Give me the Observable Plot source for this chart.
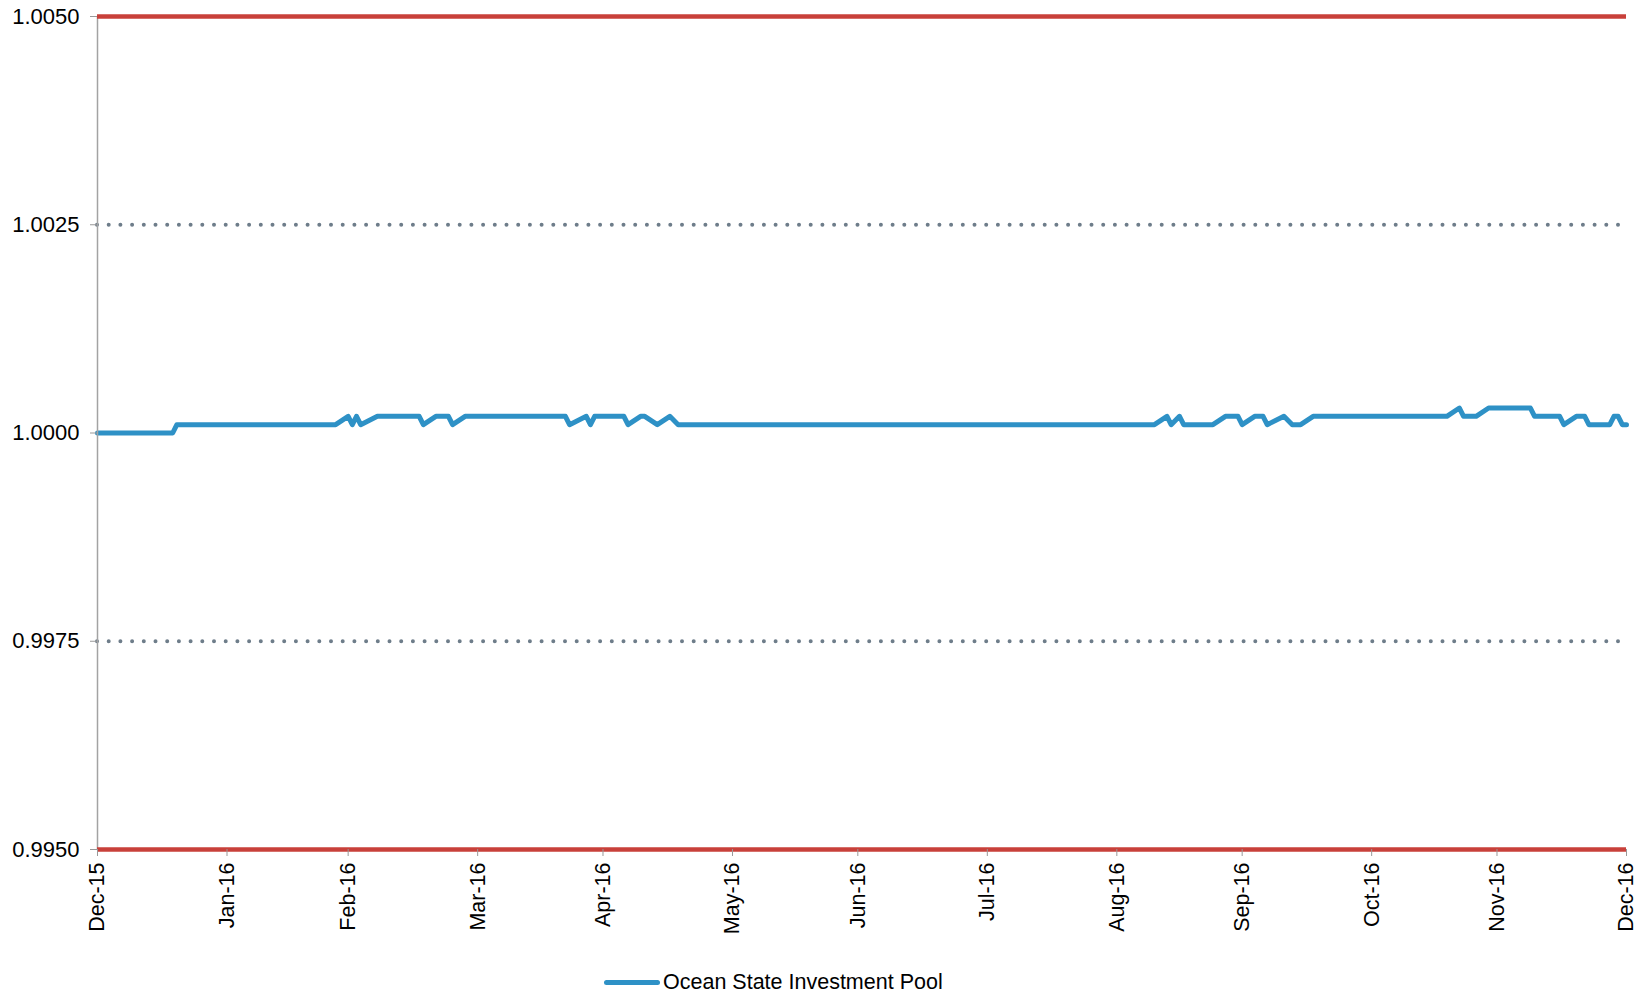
<!DOCTYPE html>
<html>
<head>
<meta charset="utf-8">
<script src="https://cdn.jsdelivr.net/npm/d3@7"></script>
<script src="https://cdn.jsdelivr.net/npm/@observablehq/plot@0.6"></script>
<style>
  html, body { margin: 0; padding: 0; background: #fff; }
  #chart { width: 1648px; }
  #chart svg g[aria-label="y-axis tick label"] { font-size: 22px; }
  #chart svg g[aria-label="x-axis tick label"] { font-size: 21.5px; }
  .legend { position: relative; height: 44px; font-family: "Liberation Sans", Arial, sans-serif; font-size: 21.5px; color: #000; }
  .legend .item { position: absolute; left: 604px; top: 20px; display: flex; align-items: center; height: 24px; }
  .legend .swatch { width: 56px; height: 5px; border-radius: 3px; background: #2e91c6; margin-right: 3px; }
</style>
</head>
<body>
<div id="chart"></div>
<script>
// ---- data ----
const seriesName = "Ocean State Investment Pool";
const navDates = [
  "2015-12-01","2015-12-19","2015-12-20","2016-01-27","2016-01-30","2016-01-31",
  "2016-02-01","2016-02-02","2016-02-06","2016-02-16","2016-02-17","2016-02-20",
  "2016-02-23","2016-02-24","2016-02-27","2016-03-22","2016-03-23","2016-03-27",
  "2016-03-28","2016-03-29","2016-04-05","2016-04-06","2016-04-09","2016-04-10",
  "2016-04-13","2016-04-16","2016-04-18","2016-08-10","2016-08-13","2016-08-14",
  "2016-08-16","2016-08-17","2016-08-24","2016-08-27","2016-08-30","2016-08-31",
  "2016-09-03","2016-09-05","2016-09-06","2016-09-10","2016-09-12","2016-09-14",
  "2016-09-17","2016-10-19","2016-10-22","2016-10-23","2016-10-26","2016-10-29",
  "2016-11-08","2016-11-09","2016-11-15","2016-11-16","2016-11-19","2016-11-21",
  "2016-11-22","2016-11-27","2016-11-28","2016-11-29","2016-11-30","2016-12-01"
];
const navValues = [
  1.0000,1.0000,1.0001,1.0001,1.0002,1.0001,
  1.0002,1.0001,1.0002,1.0002,1.0001,1.0002,
  1.0002,1.0001,1.0002,1.0002,1.0001,1.0002,
  1.0001,1.0002,1.0002,1.0001,1.0002,1.0002,
  1.0001,1.0002,1.0001,1.0001,1.0002,1.0001,
  1.0002,1.0001,1.0001,1.0002,1.0002,1.0001,
  1.0002,1.0002,1.0001,1.0002,1.0001,1.0001,
  1.0002,1.0002,1.0003,1.0002,1.0002,1.0003,
  1.0003,1.0002,1.0002,1.0001,1.0002,1.0002,
  1.0001,1.0001,1.0002,1.0002,1.0001,1.0001
];
// tick positions as they sit on the reference axis, and their labels
const tickPositions = [
  "2015-12-01","2016-01-01","2016-01-30","2016-03-01","2016-03-31","2016-05-01",
  "2016-05-31","2016-07-01","2016-08-01","2016-08-31","2016-10-01","2016-10-31","2016-12-01"
];
const tickLabels = [
  "Dec-15","Jan-16","Feb-16","Mar-16","Apr-16","May-16",
  "Jun-16","Jul-16","Aug-16","Sep-16","Oct-16","Nov-16","Dec-16"
];
const yTicks = [0.9950, 0.9975, 1.0000, 1.0025, 1.0050];
const limitLevels = [0.9950, 1.0050];
const bandLevels = [0.9975, 1.0025];

// ---- build table ----
const data = navDates.map((d, i) => ({date: new Date(d), nav: navValues[i]}));
const tickDates = tickPositions.map(d => new Date(d));
const labelOf = new Map(tickDates.map((d, i) => [+d, tickLabels[i]]));
const xDomain = [tickDates[0], tickDates[tickDates.length - 1]];

const chart = Plot.plot({
  width: 1648,
  height: 950,
  marginLeft: 97,
  marginRight: 22,
  marginTop: 16,
  marginBottom: 101,
  style: {fontFamily: "'Liberation Sans', Arial, sans-serif", fontSize: "20px", color: "#000", background: "#fff"},
  x: {type: "utc", domain: xDomain},
  y: {domain: [yTicks[0], yTicks[yTicks.length - 1]]},
  marks: [
    Plot.ruleY(bandLevels, {stroke: "#6e7d8a", strokeWidth: 4, strokeDasharray: "0 11.7", strokeLinecap: "round"}),
    Plot.lineY(data, {x: "date", y: "nav", stroke: "#2e91c6", strokeWidth: 5, strokeLinejoin: "round"}),
    Plot.ruleX([xDomain[0]], {stroke: "#a3a3a3", strokeWidth: 1.5}),
    Plot.ruleY(limitLevels, {stroke: "#c8403a", strokeWidth: 4.5}),
    Plot.axisY({ticks: yTicks, tickFormat: d3.format(".4f"), tickSize: 7, tickPadding: 11, stroke: "#999", fill: "#000", label: null}),
    Plot.axisX({ticks: tickDates, tickFormat: d => labelOf.get(+d), tickRotate: -90, tickSize: 7, tickPadding: 6, stroke: "#999", fill: "#000", label: null})
  ]
});
document.getElementById("chart").appendChild(chart);

const legend = document.createElement("div");
legend.className = "legend";
legend.innerHTML = `<div class="item"><span class="swatch"></span><span></span></div>`;
legend.querySelector(".item span:last-child").textContent = seriesName;
document.body.appendChild(legend);
</script>
</body>
</html>
